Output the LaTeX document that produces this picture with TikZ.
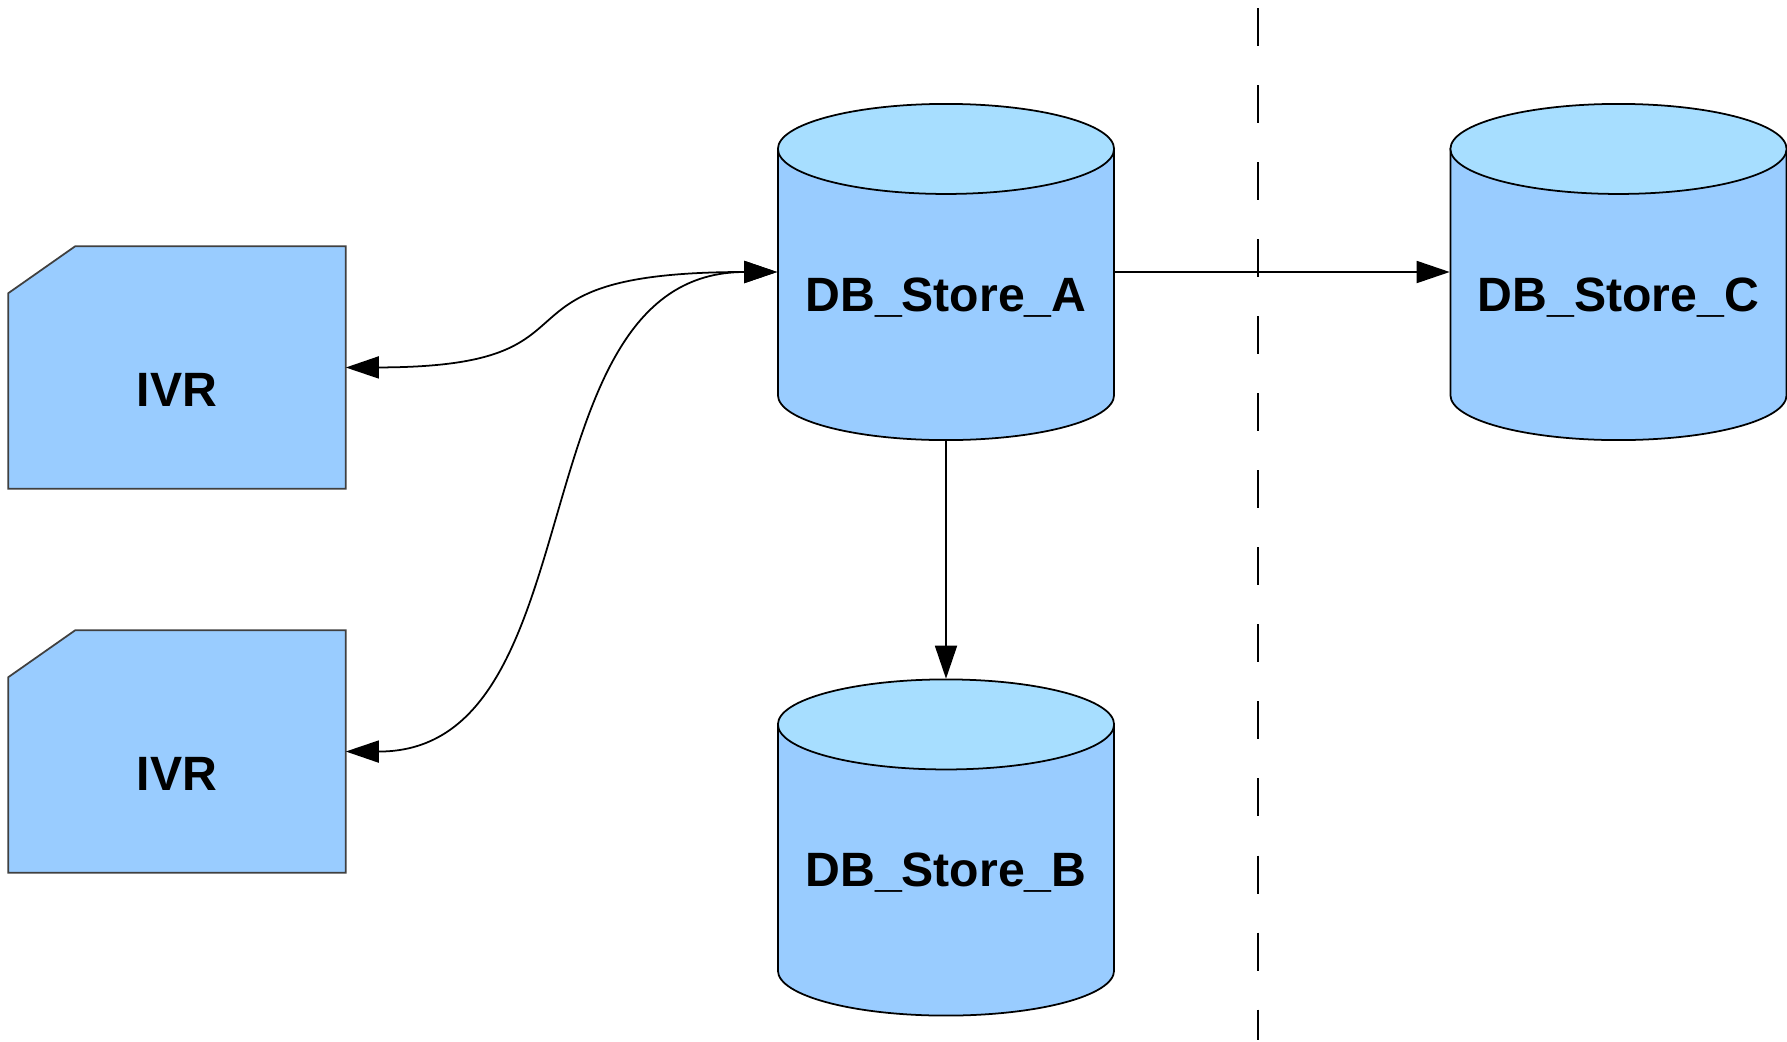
\documentclass[tikz,border=0pt]{standalone}
\usepackage{fontspec}
\setmainfont{Liberation Sans}
\usetikzlibrary{arrows.meta,backgrounds}
\definecolor{boxblue}{RGB}{153,204,255}
\definecolor{topblue}{RGB}{167,222,255}
\tikzset{
    lbl/.style={font=\fontsize{13.7}{16}\selectfont\bfseries, text height=0.78cm, text depth=0pt, inner sep=0pt},
    ivr/.style={lbl, minimum width=3.36cm, minimum height=2.41cm},
    db/.style={lbl, minimum width=3.36cm, minimum height=3.36cm},
    link/.style={-{Triangle[length=0.33cm, width=0.22cm]}, line width=0.5pt},
    dlink/.style={{Triangle[length=0.33cm, width=0.22cm]}-{Triangle[length=0.33cm, width=0.22cm]}, line width=0.5pt},
}
% card with cut corner behind an ivr node
\newcommand{\drawivr}[1]{%
    \draw[fill=boxblue, draw=black!75, line width=0.5pt] ([yshift=-0.47cm]#1.north west) -- ([xshift=0.67cm]#1.north west)
        -- (#1.north east) -- (#1.south east) -- (#1.south west) -- cycle;}
% cylinder behind a db node
\newcommand{\drawdb}[1]{%
    \begin{scope}[shift={(#1.center)}, x=1cm, y=1cm, line width=0.5pt]
        \draw[fill=boxblue] (-1.68, 1.23) -- (-1.68, -1.23) arc[start angle=180, end angle=360, x radius=1.68, y radius=0.45]
            -- (1.68, 1.23) -- cycle;
        \draw[fill=topblue] (0, 1.23) ellipse[x radius=1.68, y radius=0.45];
    \end{scope}}
\begin{document}
\begin{tikzpicture}[x=0.01cm, y=-0.01cm]
    \useasboundingbox (0, 0) rectangle (1787, 1042);
    \draw[dash pattern=on 0.38cm off 0.39cm, line width=0.5pt] (1258, 8) -- (1258, 1040);
    \node[ivr] (ivrA) at (177, 367.5) {IVR};
    \node[ivr] (ivrB) at (177, 751.5) {IVR};
    \node[db] (dbA) at (946, 272) {DB\_Store\_A};
    \node[db] (dbB) at (946, 847.5) {DB\_Store\_B};
    \node[db] (dbC) at (1618.5, 272) {DB\_Store\_C};
    \begin{pgfonlayer}{background}
        \drawivr{ivrA}
        \drawivr{ivrB}
        \drawdb{dbA}
        \drawdb{dbB}
        \drawdb{dbC}
    \end{pgfonlayer}
    \draw[dlink] (dbA.west) .. controls (470, 272) and (620, 367) .. (ivrA.east);
    \draw[dlink] (dbA.west) .. controls (513, 272) and (600, 752) .. (ivrB.east);
    \draw[link] (dbA.east) -- (dbC.west);
    \draw[link] (dbA.south) -- (dbB.north);
\end{tikzpicture}
\end{document}
